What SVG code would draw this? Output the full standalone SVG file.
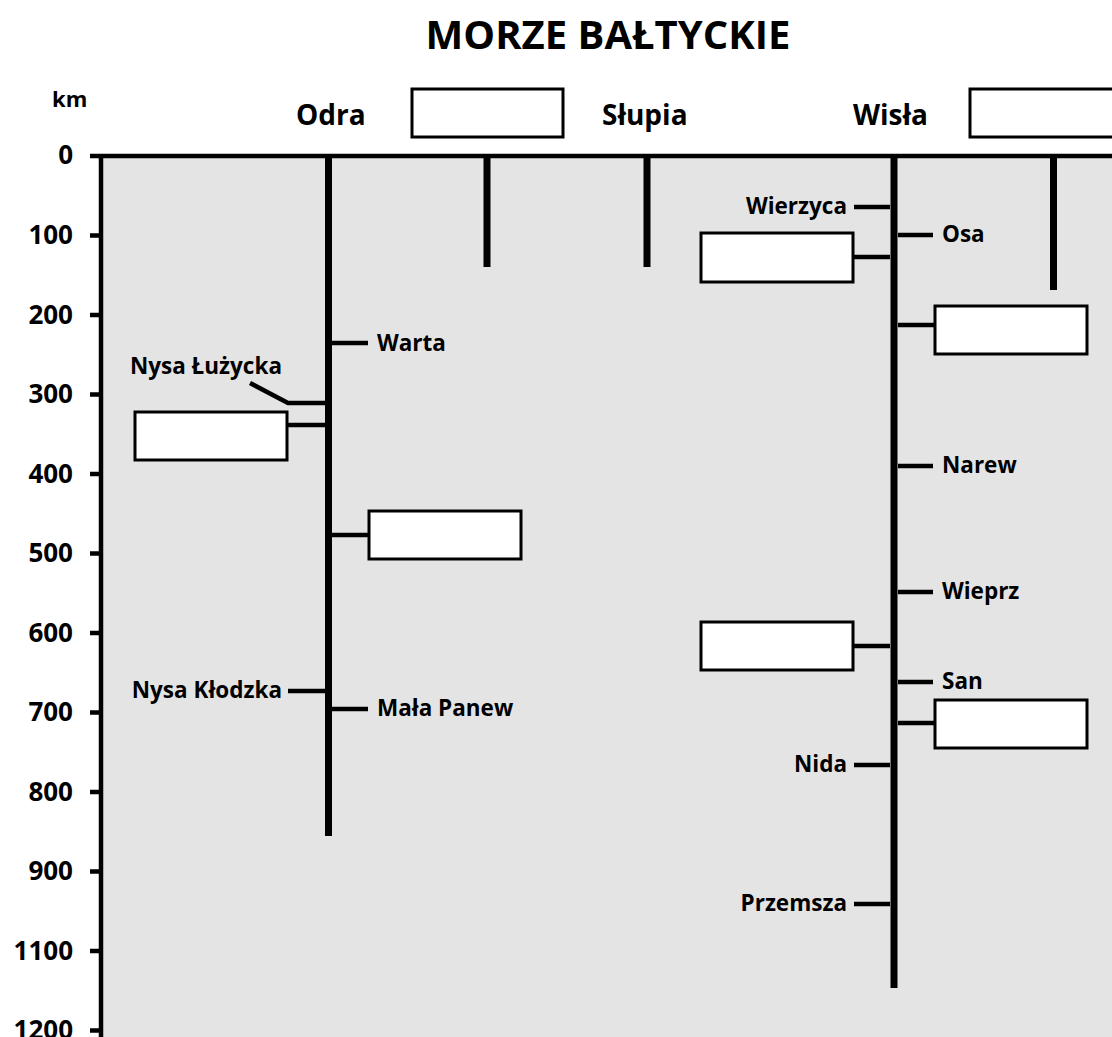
<svg xmlns="http://www.w3.org/2000/svg" width="1112" height="1037" viewBox="0 0 1112 1037">
<style>
text{font-family:"Open Sans","Liberation Sans",sans-serif;font-weight:bold;fill:#000}
.num{font-size:26px;text-anchor:end}
.lbl{font-size:22.5px}
.l{text-anchor:end}
.top{font-size:28px}
.river{stroke:#000;stroke-width:7;fill:none}
.trib{stroke:#000;stroke-width:4.5;fill:none}
.axis{stroke:#000;stroke-width:4.5;fill:none}
.box{fill:#fff;stroke:#000;stroke-width:3}
</style>
<rect x="0" y="0" width="1112" height="1037" fill="#fff"/>
<rect x="101" y="156" width="1011" height="881" fill="#e4e4e4"/>
<g id="title"><text x="608" y="49" text-anchor="middle" style="font-size:40px">MORZE BAŁTYCKIE</text></g>
<g id="axis">
<line class="axis" x1="90" y1="156" x2="1112" y2="156"/>
<line class="axis" x1="101" y1="154" x2="101" y2="1037"/>
<path class="axis" d="M90 235.5H101M90 315H101M90 394.5H101M90 474H101M90 553.5H101M90 633H101M90 712.5H101M90 792H101M90 871.5H101M90 951H101M90 1030.5H101"/>
<text class="lbl" x="52" y="107" style="font-size:22px">km</text>
<text class="num" x="73" y="164">0</text>
<text class="num" x="73" y="244">100</text>
<text class="num" x="73" y="324">200</text>
<text class="num" x="73" y="403">300</text>
<text class="num" x="73" y="483">400</text>
<text class="num" x="73" y="562">500</text>
<text class="num" x="73" y="642">600</text>
<text class="num" x="73" y="721">700</text>
<text class="num" x="73" y="801">800</text>
<text class="num" x="73" y="880">900</text>
<text class="num" x="73" y="960">1100</text>
<text class="num" x="73" y="1039">1200</text>
</g>
<g id="top-labels">
<text class="top" x="296" y="125">Odra</text>
<rect class="box" x="412" y="89" width="151" height="48"/>
<text class="top" x="602" y="125">Słupia</text>
<text class="top" x="853" y="125">Wisła</text>
<rect class="box" x="970" y="89" width="150" height="48"/>
</g>
<g id="connectors">
<line class="river" x1="328.5" y1="156" x2="328.5" y2="836"/>
<line class="river" x1="487" y1="156" x2="487" y2="267"/>
<line class="river" x1="647" y1="156" x2="647" y2="267"/>
<line class="river" x1="894" y1="156" x2="894" y2="988"/>
<line class="river" x1="1053.5" y1="156" x2="1053.5" y2="290"/>
<path class="trib" d="M332 343H368"/>
<path class="trib" d="M250 383L288 403H325"/>
<path class="trib" d="M287 425H325"/>
<path class="trib" d="M332 535H369"/>
<path class="trib" d="M288 691H325"/>
<path class="trib" d="M332 709H368"/>
<path class="trib" d="M854 207H890"/>
<path class="trib" d="M898 235H933"/>
<path class="trib" d="M853 257H890"/>
<path class="trib" d="M898 325H935"/>
<path class="trib" d="M898 466H933"/>
<path class="trib" d="M898 592H933"/>
<path class="trib" d="M853 646H890"/>
<path class="trib" d="M898 682H933"/>
<path class="trib" d="M898 723H935"/>
<path class="trib" d="M854 765H890"/>
<path class="trib" d="M854 904H890"/>
</g>
<g id="odra-tributaries">
<text class="lbl" x="377" y="351">Warta</text>
<text class="lbl l" x="282" y="374">Nysa Łużycka</text>
<rect class="box" x="135" y="412" width="152" height="48"/>
<rect class="box" x="369" y="511" width="152" height="48"/>
<text class="lbl l" x="282" y="698">Nysa Kłodzka</text>
<text class="lbl" x="377" y="716">Mała Panew</text>
</g>
<g id="wisla-tributaries">
<text class="lbl l" x="847" y="214">Wierzyca</text>
<text class="lbl" x="942" y="242">Osa</text>
<rect class="box" x="701" y="233" width="152" height="49"/>
<rect class="box" x="935" y="306" width="152" height="48"/>
<text class="lbl" x="942" y="473">Narew</text>
<text class="lbl" x="942" y="599">Wieprz</text>
<rect class="box" x="701" y="622" width="152" height="48"/>
<text class="lbl" x="942" y="689">San</text>
<rect class="box" x="935" y="700" width="152" height="48"/>
<text class="lbl l" x="847" y="772">Nida</text>
<text class="lbl l" x="847" y="911">Przemsza</text>
</g>
</svg>
